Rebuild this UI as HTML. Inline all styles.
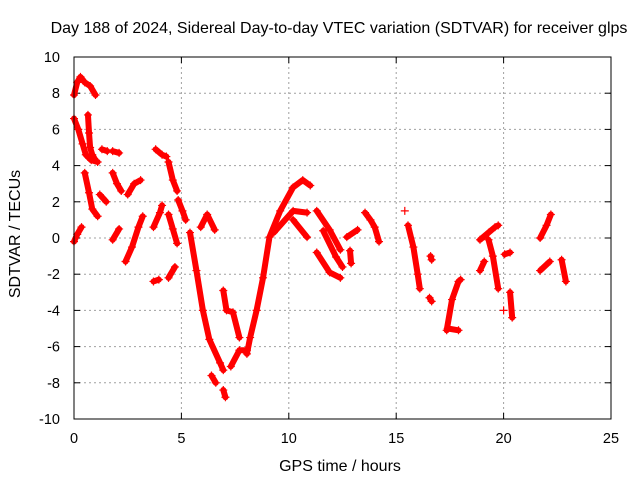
<!DOCTYPE html>
<html><head><meta charset="utf-8"><style>
body{margin:0;background:#fff}
svg{display:block;font-family:"Liberation Sans",sans-serif}
</style></head><body>
<svg id="chart" width="640" height="480" viewBox="0 0 640 480">
<rect width="640" height="480" fill="#fff"/>
<text x="339" y="33" font-size="16" text-anchor="middle">Day 188 of 2024, Sidereal Day-to-day VTEC variation (SDTVAR) for receiver glps</text>
<g id="grid"></g>
<g id="ticks"></g>
<g id="marks"></g>
<rect x="74" y="57" width="537" height="362" fill="none" stroke="#000" stroke-width="1"/>
<text transform="translate(20,234) rotate(-90)" font-size="16" text-anchor="middle">SDTVAR / TECUs</text>
<text x="340" y="471" font-size="16" text-anchor="middle">GPS time / hours</text>
</svg>
<script>
const xTicks=[0,5,10,15,20,25];
const yTicks=[-10,-8,-6,-4,-2,0,2,4,6,8,10];
const seg1=[[0,-0.2],[0.15,0.2],[0.35,0.6]];
const seg2=[[0,7.9],[0.15,8.6],[0.3,8.9],[0.5,8.6],[0.75,8.4],[1,7.9]];
const seg3=[[0,6.6],[0.2,6],[0.4,5.2],[0.55,4.6],[0.8,4.3],[1.1,4.2]];
const seg4=[[0.65,6.8],[0.7,5.8],[0.75,5],[0.85,4.6],[1.0,4.3]];
const seg5=[[0.5,3.6],[0.7,2.5],[0.85,1.6],[1.1,1.2]];
const seg6=[[1.2,2.4],[1.5,2.0]];
const seg7=[[1.3,4.9],[1.55,4.8]];
const seg8=[[1.8,4.8],[2.1,4.7]];
const seg9=[[1.8,3.6],[2.0,3.0],[2.2,2.6]];
const seg10=[[2.5,2.4],[2.8,3.0],[3.1,3.2]];
const seg11=[[1.8,-0.1],[2.1,0.5]];
const seg12=[[2.4,-1.3],[2.7,-0.5],[3.0,0.6],[3.2,1.2]];
const seg13=[[3.8,4.9],[4.1,4.6],[4.3,4.5]];
const seg14=[[4.4,4.2],[4.6,3.2],[4.8,2.6]];
const seg15=[[3.7,0.6],[4.0,1.4],[4.1,1.8]];
const seg16=[[4.4,1.3],[4.6,0.5],[4.8,-0.3]];
const seg17=[[4.85,2.1],[5.05,1.5],[5.2,1.0]];
const seg18=[[4.4,-2.2],[4.7,-1.6]];
const seg19=[[3.7,-2.4],[3.95,-2.3]];
const seg20=[[5.9,0.6],[6.2,1.3],[6.55,0.45]];
const seg21=[[5.4,0.3],[5.7,-1.8],[6.0,-4.0],[6.3,-5.6],[6.8,-6.9],[6.95,-7.3]];
const seg22=[[6.4,-7.6],[6.6,-8.0]];
const seg23=[[6.95,-8.4],[7.05,-8.8]];
const seg24=[[7.3,-7.1],[7.7,-6.2],[8.05,-6.2]];
const seg25=[[8.05,-6.4],[8.2,-5.5],[8.5,-4.0],[8.8,-2.2],[9.1,0.05],[9.6,1.5],[10.2,2.8],[10.65,3.2],[11.0,2.9]];
const seg26=[[6.95,-2.9],[7.1,-4.0],[7.4,-4.1],[7.7,-5.5]];
const seg27=[[10.2,1.0],[10.85,0.05]];
const seg28=[[9.3,0.3],[10.2,1.5],[10.85,1.4]];
const seg29=[[11.3,1.5],[11.9,0.45],[12.4,-0.65]];
const seg30=[[11.3,-0.8],[11.9,-1.9],[12.4,-2.2]];
const seg31=[[11.6,0.4],[12.2,-1.05],[12.5,-1.6]];
const seg32=[[12.7,0.05],[13.2,0.45]];
const seg33=[[12.85,-0.7],[12.9,-1.4]];
const seg34=[[13.55,1.4],[13.8,1.0],[14.0,0.6],[14.2,-0.2]];
const seg35=[[15.4,1.5]];
const seg36=[[15.55,0.7],[15.8,-0.5],[16.0,-2.0],[16.1,-2.8]];
const seg37=[[16.6,-1.0],[16.65,-1.2]];
const seg38=[[16.55,-3.3],[16.65,-3.5]];
const seg39=[[17.35,-5.1],[17.6,-3.4],[17.9,-2.4],[18.0,-2.3]];
const seg40=[[17.4,-5.0],[17.9,-5.1]];
const seg41=[[18.9,-0.1],[19.3,0.3],[19.6,0.6],[19.75,0.7]];
const seg42=[[19.3,-0.1],[19.5,-1.0],[19.75,-2.8]];
const seg43=[[18.9,-1.8],[19.1,-1.3]];
const seg44=[[20.05,-0.9],[20.3,-0.8]];
const seg45=[[20.3,-3.0],[20.4,-4.4]];
const seg46=[[20.0,-4.0]];
const seg47=[[21.7,0],[22.0,0.7],[22.2,1.3]];
const seg48=[[21.7,-1.8],[22.15,-1.3]];
const seg49=[[22.7,-1.2],[22.9,-2.4]];
const segments=[seg1,seg2,seg3,seg4,seg5,seg6,seg7,seg8,seg9,seg10,seg11,seg12,seg13,seg14,seg15,seg16,seg17,seg18,seg19,seg20,seg21,seg22,seg23,seg24,seg25,seg26,seg27,seg28,seg29,seg30,seg31,seg32,seg33,seg34,seg35,seg36,seg37,seg38,seg39,seg40,seg41,seg42,seg43,seg44,seg45,seg46,seg47,seg48,seg49];

const X0=74,X1=611,Y0=419,Y1=57;
function sx(t){return X0+(t-0)/(25-0)*(X1-X0);}
function sy(v){return Y0-(v+10)/20*(Y0-Y1);}
const NS="http://www.w3.org/2000/svg";
function mk(tag,attrs,parent){const e=document.createElementNS(NS,tag);for(const k in attrs)e.setAttribute(k,attrs[k]);parent.appendChild(e);return e;}
const grid=document.getElementById('grid'),ticks=document.getElementById('ticks'),marks=document.getElementById('marks');
xTicks.forEach(t=>{
  const x=sx(t);
  if(t>0&&t<25){const g=mk('line',{x1:x,y1:Y1,x2:x,y2:Y0,stroke:'#a0a0a0','stroke-dasharray':'2,3'},grid);
  
  }
  mk('line',{x1:x,y1:Y0,x2:x,y2:Y0-6,stroke:'#000'},ticks);
  mk('line',{x1:x,y1:Y1,x2:x,y2:Y1+6,stroke:'#000'},ticks);
  const l=mk('text',{x:x,y:Y0+24,'font-size':'14.5','text-anchor':'middle'},ticks);
  l.textContent=t;
  
  
});
yTicks.forEach(v=>{
  const y=sy(v);
  if(v>-10&&v<10){const g=mk('line',{x1:X0,y1:y,x2:X1,y2:y,stroke:'#a0a0a0','stroke-dasharray':'2,3'},grid);
  
  }
  mk('line',{x1:X0,y1:y,x2:X0+6,y2:y,stroke:'#000'},ticks);
  mk('line',{x1:X1,y1:y,x2:X1-6,y2:y,stroke:'#000'},ticks);
  const l=mk('text',{x:X0-14,y:y+5,'font-size':'14.5','text-anchor':'end'},ticks);
  l.textContent=v;
  
  
});
segments.forEach(seg=>{
  if(seg.length>1){
    const p=mk('polyline',{points:seg.map(d=>sx(d[0])+','+sy(d[1])).join(' '),fill:'none',stroke:'#f00','stroke-width':'6','stroke-linecap':'round','stroke-linejoin':'round'},marks);
    
    
  }
  seg.forEach(d=>{
    const x=sx(d[0]),y=sy(d[1]);
    const c=mk('path',{d:`M${x-4},${y}H${x+4}M${x},${y-4}V${y+4}`,stroke:'#f00','stroke-width':'1.2'},marks);
    
    
  });
});
</script>
</body></html>
